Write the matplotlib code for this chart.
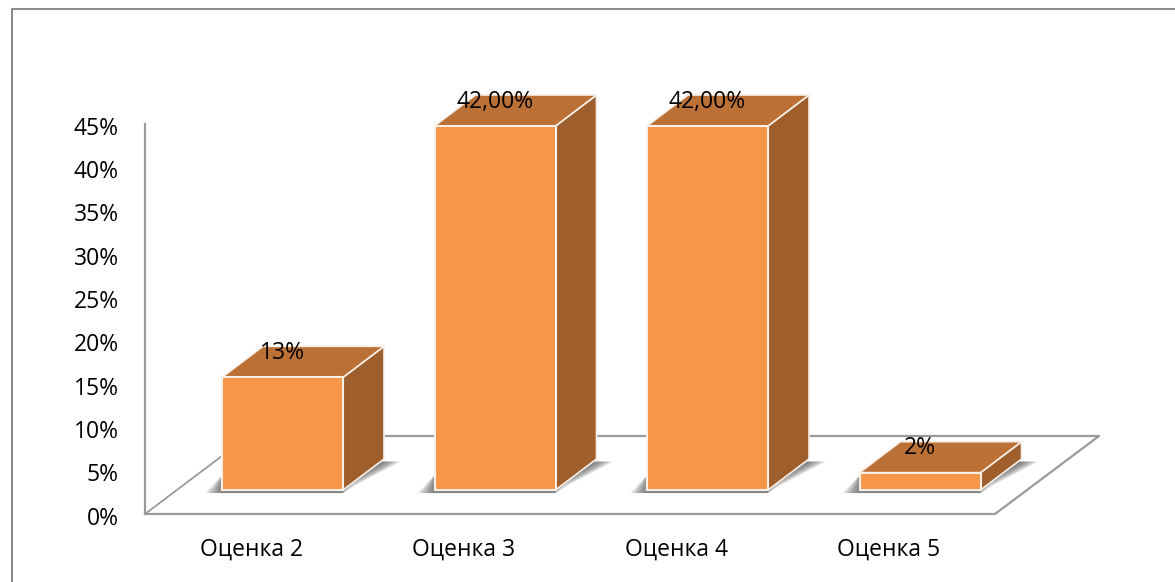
import matplotlib
matplotlib.use("Agg")
import matplotlib.pyplot as plt
from matplotlib.patches import Polygon

categories = ["Оценка 2", "Оценка 3", "Оценка 4", "Оценка 5"]
values = [13, 42, 42, 2]
value_labels = ["13%", "42,00%", "42,00%", "2%"]
y_ticks = [0, 5, 10, 15, 20, 25, 30, 35, 40, 45]

W, H = 1175, 582
# pixel sizes of the fake 3d chart
px_per_cat = 212.5
px_per_pct = 8.667
x0_px = 282.5
y0_px = 514
bar_w = 121 / px_per_cat
dx = 41 / px_per_cat
dy = 31 / px_per_pct
base = 24 / px_per_pct

plt.rcParams['font.family'] = ['Open Sans', 'DejaVu Sans']

fig = plt.figure(figsize=(W / 100, H / 100), dpi=100)
ax = fig.add_axes([0, 0, 1, 1])
ax.set_xlim(-x0_px / px_per_cat, (W - x0_px) / px_per_cat)
ax.set_ylim((y0_px - H) / px_per_pct, y0_px / px_per_pct)
ax.axis("off")


def xp(px):
    return (px - x0_px) / px_per_cat


def yp(px):
    return (y0_px - px) / px_per_pct


# outer frame, only left and top are visible
ax.plot([xp(12), xp(12), xp(1175)], [yp(582), yp(9.5), yp(9.5)],
        color="#8c8c8c", lw=1.5, zorder=1)

# floor and walls
grey = "#9a9a9a"
ax.plot([xp(145), xp(145)], [yp(124), yp(514)], color=grey, lw=1.6, zorder=1)
ax.plot([xp(145), xp(995), xp(1099), xp(385)], [yp(514), yp(514), yp(436), yp(436)],
        color=grey, lw=1.6, zorder=1)
ax.plot([xp(145), xp(222)], [yp(514), yp(456)], color=grey, lw=1.3, zorder=1)

for v in y_ticks:
    ax.text(xp(119), v - 0.55, f"{v}%", ha="right", va="center", fontsize=16.5, color="black")

for i, (cat, v, lab) in enumerate(zip(categories, values, value_labels)):
    left = i - bar_w / 2
    right = i + bar_w / 2
    top = base + v

    # soft shadow on the floor, stacked see-through polygons
    n = 10
    for k in range(n):
        g = (n - k) * 1.7 / px_per_cat
        ax.add_patch(Polygon([(left - g, base - 0.35), (right, base - 0.35),
                              (right + g * 0.8, base + 0.6),
                              (right + dx + g, base + dy - 0.3),
                              (left + dx, base + dy - 0.3),
                              (left - g * 0.1, base + 1.5)],
                             closed=True, fc="#555555", ec="none", alpha=0.11, zorder=2))

    # side and top faces, then the front
    ax.add_patch(Polygon([(right, base), (right + dx, base + dy), (right + dx, top + dy), (right, top)],
                         closed=True, fc="#9e5f2c", ec="#f7efe8", lw=1.2, zorder=3))
    ax.add_patch(Polygon([(left, top), (right, top), (right + dx, top + dy), (left + dx, top + dy)],
                         closed=True, fc="#bb7035", ec="#f7efe8", lw=1.2, zorder=3))
    ax.add_patch(Polygon([(left, base), (right, base), (right, top), (left, top)],
                         closed=True, fc="#f79646", ec="#f7efe8", lw=1.5, zorder=4))

    ax.text(i - 31 / px_per_cat, yp(550), cat, ha="center", va="center", fontsize=16.5, color="black", zorder=6)
    ax.text(i, top + dy * 0.78, lab, ha="center", va="center", fontsize=16.5, color="black", zorder=6)

fig.savefig("out.png", dpi=100)
